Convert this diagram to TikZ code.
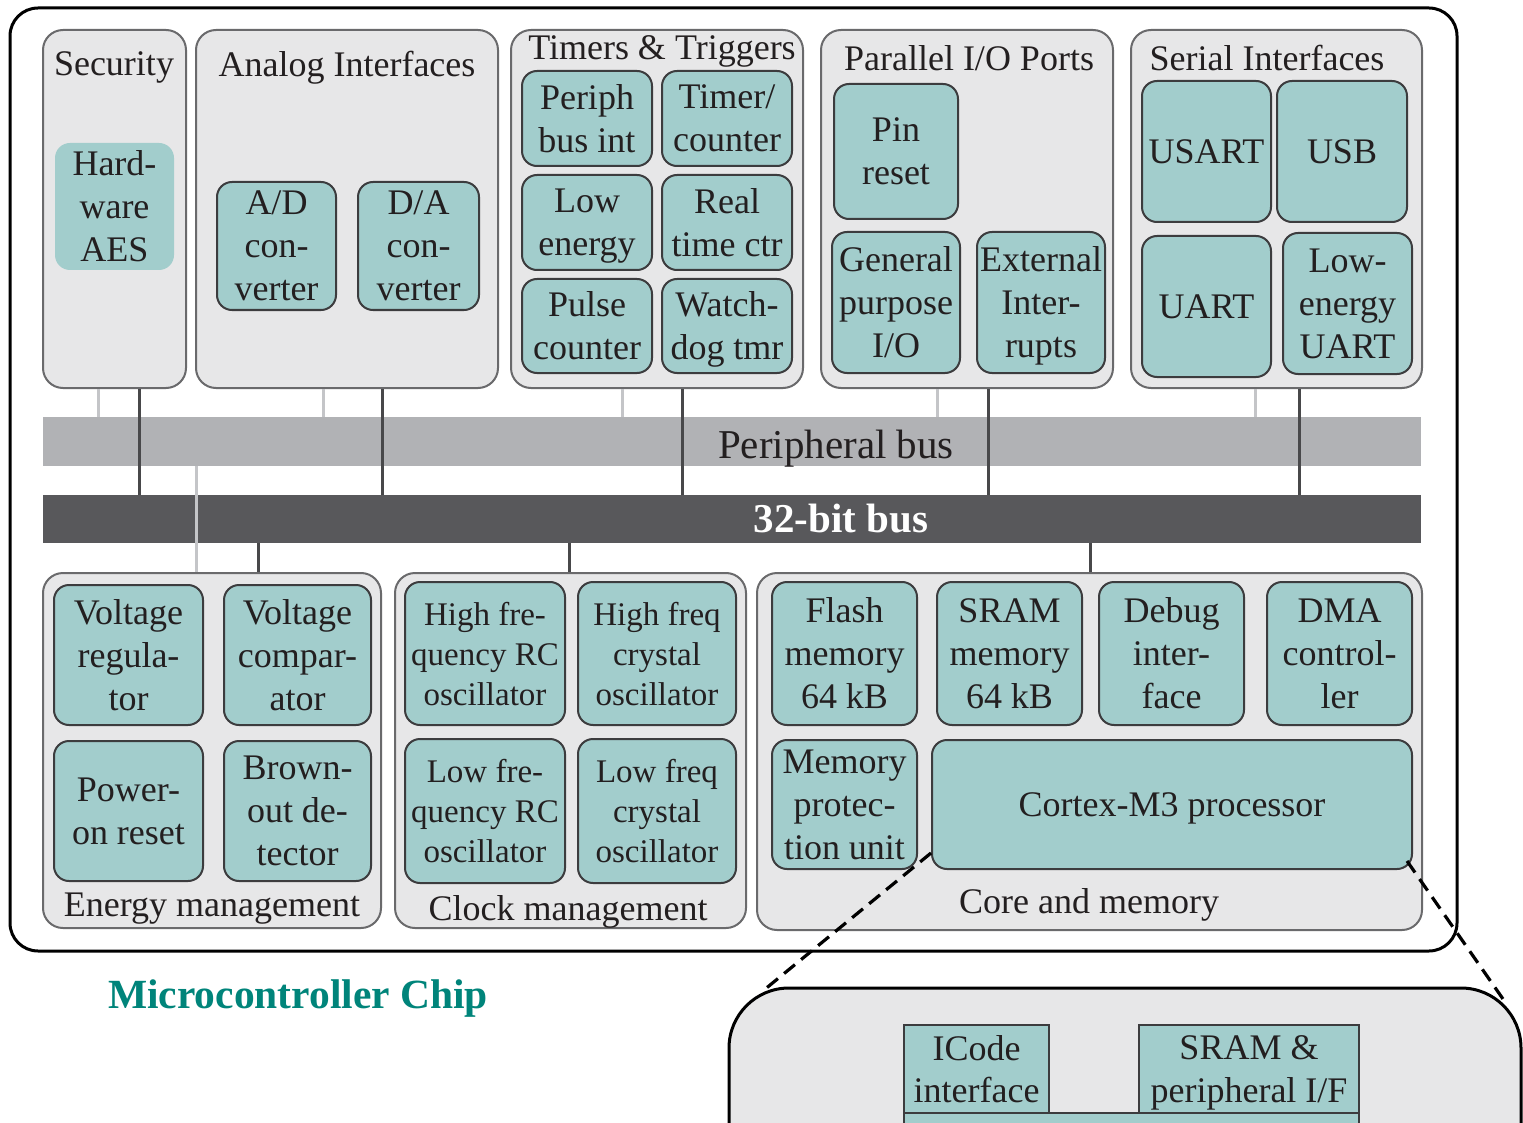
\documentclass[tikz,border=0pt]{standalone}
\usepackage{fontspec}
\setmainfont{Liberation Serif}
\usetikzlibrary{calc}

\definecolor{tealfill}{HTML}{A2CDCC}
\definecolor{tealline}{HTML}{3C3C3E}
\definecolor{secfill}{HTML}{E7E7E8}
\definecolor{secline}{HTML}{6A6A6C}
\definecolor{pbusc}{HTML}{B1B2B5}
\definecolor{dbusc}{HTML}{58585B}
\definecolor{lconn}{HTML}{C4C5C8}
\definecolor{dconn}{HTML}{48484A}
\definecolor{ink}{HTML}{231F20}
\definecolor{chiptitle}{HTML}{00847A}

% box placed by its corners: style, name, x1, y1, x2, y2, text
\newcommand{\mkbox}[7]{%
  \pgfmathsetmacro\bxw{#5-#3}%
  \pgfmathsetmacro\bxh{#6-#4}%
  \node[#1, minimum width=\bxw pt, minimum height=\bxh pt] (#2)
    at ({(#3+#5)/2},{(#4+#6)/2}) {#7};}

\tikzset{
  chipbox/.style={draw=black, fill=white, line width=3pt, rounded corners=28pt, inner sep=0pt},
  sect/.style={draw=secline, fill=secfill, line width=2pt, rounded corners=20pt, inner sep=0pt},
  tbox/.style={draw=tealline, fill=tealfill, line width=2pt, rounded corners=15pt,
    inner sep=0pt, align=center, text=ink, text depth=0pt, font=\fontsize{36}{43}\selectfont},
  cbox/.style={tbox, font=\fontsize{33}{40}\selectfont},
  sqbox/.style={tbox, rounded corners=0pt},
  lbl/.style={text=ink, inner sep=0pt, text depth=0pt, font=\fontsize{36}{43}\selectfont},
  buslbl/.style={text=ink, inner sep=0pt, text depth=0pt, font=\fontsize{41}{48}\selectfont},
  pbusbox/.style={fill=pbusc, draw=none, inner sep=0pt},
  dbusbox/.style={fill=dbusc, draw=none, inner sep=0pt},
  lightwire/.style={draw=lconn, line width=3pt},
  darkwire/.style={draw=dconn, line width=3pt},
  zoomwire/.style={draw=black, line width=3.2pt, dash pattern=on 14pt off 8pt},
  cpubox/.style={draw=black, fill=secfill, line width=3pt, rounded corners=60pt, inner sep=0pt},
}

\begin{document}
\begin{tikzpicture}[x=1pt,y=-1pt]
\useasboundingbox (0,0) rectangle (1523,1123);
\clip (0,0) rectangle (1523,1123);

% chip outline
\mkbox{chipbox}{chip}{10}{8}{1457}{951}{}

% peripheral groups
\mkbox{sect}{sec}{43}{30}{186}{388}{}
\mkbox{sect}{ana}{196}{30}{498}{388}{}
\mkbox{sect}{tim}{511}{30}{803}{388}{}
\mkbox{sect}{par}{821}{30}{1113}{388}{}
\mkbox{sect}{ser}{1131}{30}{1422}{388}{}

\node[lbl] (secT) at (114,64) {Security};
\node[lbl] (anaT) at (347,64) {Analog Interfaces};
\node[lbl] (timT) at (662,48) {Timers \& Triggers};
\node[lbl] (parT) at (969,58) {Parallel I/O Ports};
\node[lbl] (serT) at (1267,58) {Serial Interfaces};

\mkbox{tbox,draw=none}{aes}{55}{143}{174}{270}{Hard-\\ware\\AES}
\mkbox{tbox}{adc}{217}{182}{336}{310}{A/D\\con-\\verter}
\mkbox{tbox}{dac}{358}{182}{479}{310}{D/A\\con-\\verter}

\mkbox{tbox}{pbi}{522}{71}{652}{166}{Periph\\bus int}
\mkbox{tbox}{tcn}{662}{71}{792}{166}{Timer/\\counter}
\mkbox{tbox}{len}{522}{175}{652}{270}{Low\\energy}
\mkbox{tbox}{rtc}{662}{175}{792}{270}{Real\\time ctr}
\mkbox{tbox}{pcn}{522}{279}{652}{373}{Pulse\\counter}
\mkbox{tbox}{wdt}{662}{279}{792}{373}{Watch-\\dog tmr}

\mkbox{tbox}{pin}{834}{84}{958}{219}{Pin\\reset}
\mkbox{tbox}{gpio}{832}{232}{960}{373}{General\\purpose\\I/O}
\mkbox{tbox}{exti}{977}{232}{1105}{373}{External\\Inter-\\rupts}

\mkbox{tbox}{usart}{1142}{81}{1271}{222}{USART}
\mkbox{tbox}{usb}{1277}{81}{1407}{222}{USB}
\mkbox{tbox}{uart}{1142}{236}{1271}{377}{UART}
\mkbox{tbox}{leuart}{1283}{233}{1412}{374}{Low-\\energy\\UART}

% buses
\mkbox{pbusbox}{pbus}{43}{417}{1421}{466}{}
\node[buslbl] (pbusT) at (836,444) {Peripheral bus};
\mkbox{dbusbox}{dbus}{43}{495}{1421}{543}{}
\node[buslbl, text=white, font=\fontsize{41}{48}\selectfont\bfseries] (dbusT) at (841,518) {32-bit bus};

% system groups
\mkbox{sect}{enm}{43}{573}{381}{928}{}
\mkbox{sect}{clk}{395}{573}{746}{928}{}
\mkbox{sect}{core}{757}{573}{1422}{930}{}

\node[lbl] (enmT) at (212,905) {Energy management};
\node[lbl] (clkT) at (568,908) {Clock management};
\node[lbl] (coreT) at (1089,901) {Core and memory};

\mkbox{tbox}{vreg}{54}{585}{203}{725}{Voltage\\regula-\\tor}
\mkbox{tbox}{vcmp}{224}{585}{371}{725}{Voltage\\compar-\\ator}
\mkbox{tbox}{por}{54}{741}{203}{881}{Power-\\on reset}
\mkbox{tbox}{bod}{224}{741}{371}{881}{Brown-\\out de-\\tector}

\mkbox{cbox}{hrc}{405}{582}{565}{725}{High fre-\\quency RC\\oscillator}
\mkbox{cbox}{hxo}{578}{582}{736}{725}{High freq\\crystal\\oscillator}
\mkbox{cbox}{lrc}{405}{739}{565}{883}{Low fre-\\quency RC\\oscillator}
\mkbox{cbox}{lxo}{578}{739}{736}{883}{Low freq\\crystal\\oscillator}

\mkbox{tbox}{flash}{772}{582}{917}{725}{Flash\\memory\\64 kB}
\mkbox{tbox}{sram}{937}{582}{1082}{725}{SRAM\\memory\\64 kB}
\mkbox{tbox}{dbg}{1099}{582}{1244}{725}{Debug\\inter-\\face}
\mkbox{tbox}{dma}{1267}{582}{1412}{725}{DMA\\control-\\ler}
\mkbox{tbox}{mpu}{772}{740}{917}{869}{Memory\\protec-\\tion unit}
\mkbox{tbox}{cm3}{932}{740}{1412}{869}{Cortex-M3 processor}

% wire columns
\coordinate (x98) at (98,0);   \coordinate (x139) at (139,0);
\coordinate (x323) at (323,0); \coordinate (x382) at (382,0);
\coordinate (x622) at (622,0); \coordinate (x682) at (682,0);
\coordinate (x937) at (937,0); \coordinate (x988) at (988,0);
\coordinate (x1255) at (1255,0); \coordinate (x1299) at (1299,0);
\coordinate (x196) at (196,0); \coordinate (x258) at (258,0);
\coordinate (x569) at (569,0); \coordinate (x1090) at (1090,0);

% peripheral-bus taps
\draw[lightwire] (x98 |- sec.south) -- (x98 |- pbus.north);
\draw[lightwire] (x323 |- ana.south) -- (x323 |- pbus.north);
\draw[lightwire] (x622 |- tim.south) -- (x622 |- pbus.north);
\draw[lightwire] (x937 |- par.south) -- (x937 |- pbus.north);
\draw[lightwire] (x1255 |- ser.south) -- (x1255 |- pbus.north);
% 32-bit bus taps
\draw[darkwire] (x139 |- sec.south) -- (x139 |- dbus.north);
\draw[darkwire] (x382 |- ana.south) -- (x382 |- dbus.north);
\draw[darkwire] (x682 |- tim.south) -- (x682 |- dbus.north);
\draw[darkwire] (x988 |- par.south) -- (x988 |- dbus.north);
\draw[darkwire] (x1299 |- ser.south) -- (x1299 |- dbus.north);
% lower groups
\draw[lightwire] (x196 |- pbus.south) -- (x196 |- enm.north);
\draw[darkwire] (x258 |- dbus.south) -- (x258 |- enm.north);
\draw[darkwire] (x569 |- dbus.south) -- (x569 |- clk.north);
\draw[darkwire] (x1090 |- dbus.south) -- (x1090 |- core.north);

\node[text=chiptitle, inner sep=0pt, text depth=0pt, font=\fontsize{41.5}{48}\selectfont\bfseries] (chipT) at (298,994) {Microcontroller Chip};

% processor detail
\mkbox{cpubox}{cpu}{729}{988}{1521}{1400}{}
\mkbox{sqbox}{icode}{904}{1025}{1049}{1113}{ICode\\interface}
\mkbox{sqbox}{sramif}{1139}{1025}{1359}{1113}{SRAM \&\\peripheral I/F}
\mkbox{sqbox}{busmx}{904}{1113}{1359}{1200}{}

\coordinate (zl) at (764,990);
\coordinate (zr) at (1503,999);
\draw[zoomwire] ($(cm3.south west)+(0,-17)$) -- (zl);
\draw[zoomwire] ($(cm3.south east)+(-6,-9)$) -- (zr);
\end{tikzpicture}
\end{document}
